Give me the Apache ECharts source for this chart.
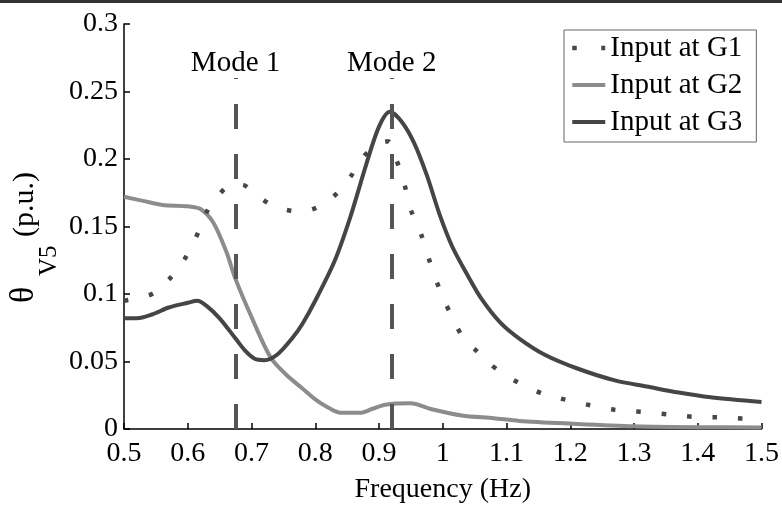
<!DOCTYPE html>
<html>
<head>
<meta charset="utf-8">
<script src="https://cdn.jsdelivr.net/npm/echarts@6/dist/echarts.min.js"></script>
<style>
html,body{margin:0;padding:0;background:#fff;}
#chart{width:782px;height:509px;}
</style>
</head>
<body>
<div id="chart"></div>
<script>
// ---- data ----
var seriesNames = ['Input at G1', 'Input at G2', 'Input at G3'];

var g1Freq = [0.50, 0.544, 0.571, 0.594, 0.613, 0.630, 0.643, 0.669, 0.685, 0.705, 0.735, 0.777, 0.802, 0.834, 0.857, 0.878, 0.906, 0.915, 0.928, 0.940, 0.951, 0.967, 0.980, 0.995, 1.012, 1.031, 1.055, 1.071, 1.091, 1.122, 1.158, 1.204, 1.232, 1.273, 1.32, 1.367, 1.395, 1.444, 1.50];
var g1Vals = [0.095, 0.100, 0.111, 0.125, 0.142, 0.161, 0.170, 0.181, 0.181, 0.1745, 0.165, 0.161, 0.164, 0.1745, 0.188, 0.203, 0.2125, 0.213, 0.1985, 0.181, 0.161, 0.143, 0.1235, 0.1035, 0.0855, 0.0686, 0.057, 0.0496, 0.042, 0.0335, 0.026, 0.0205, 0.0175, 0.014, 0.0124, 0.0102, 0.0090, 0.0085, 0.0065];

var g2Freq = [0.50, 0.53, 0.56, 0.60, 0.62, 0.64, 0.66, 0.675, 0.70, 0.73, 0.755, 0.78, 0.80, 0.82, 0.84, 0.87, 0.89, 0.91, 0.95, 0.98, 1.03, 1.08, 1.12, 1.20, 1.30, 1.40, 1.50];
var g2Vals = [0.172, 0.169, 0.166, 0.165, 0.163, 0.153, 0.132, 0.111, 0.083, 0.053, 0.040, 0.030, 0.022, 0.016, 0.012, 0.012, 0.015, 0.018, 0.019, 0.015, 0.010, 0.008, 0.006, 0.004, 0.002, 0.0013, 0.0012];

var g3Freq = [0.50, 0.52, 0.545, 0.57, 0.60, 0.615, 0.63, 0.65, 0.675, 0.69, 0.705, 0.72, 0.74, 0.765, 0.78, 0.80, 0.83, 0.855, 0.88, 0.90, 0.917, 0.935, 0.955, 0.975, 0.995, 1.015, 1.04, 1.06, 1.09, 1.12, 1.16, 1.21, 1.27, 1.32, 1.37, 1.42, 1.50];
var g3Vals = [0.082, 0.082, 0.085, 0.090, 0.0935, 0.095, 0.091, 0.082, 0.067, 0.058, 0.052, 0.051, 0.055, 0.068, 0.078, 0.095, 0.124, 0.157, 0.196, 0.224, 0.235, 0.228, 0.212, 0.188, 0.159, 0.135, 0.113, 0.097, 0.079, 0.067, 0.055, 0.045, 0.036, 0.0315, 0.027, 0.0235, 0.020];

var modeFreqs = [0.675, 0.92];
var modeLabels = ['Mode 1', 'Mode 2'];
var modeTop = 0.26;

var xMin = 0.5, xMax = 1.5, xStep = 0.1;
var yMin = 0, yMax = 0.3, yStep = 0.05;

// ---- helpers ----
function zip(xs, ys) { return xs.map(function (x, i) { return [x, ys[i]]; }); }

var FONT = 'Liberation Serif';
var chart = echarts.init(document.getElementById('chart'), null, { renderer: 'canvas' });

var modeLines = modeFreqs.map(function (f, i) {
  return [{ coord: [f, 0], name: modeLabels[i] }, { coord: [f, modeTop] }];
});

var option = {
  animation: false,
  backgroundColor: '#fff',
  grid: { left: 124, right: 20, top: 24, bottom: 74, containLabel: false },
  xAxis: {
    type: 'value', min: xMin, max: xMax, interval: xStep,
    name: 'Frequency (Hz)', nameLocation: 'middle', nameGap: 47,
    nameTextStyle: { fontFamily: FONT, fontSize: 28, color: '#000' },
    axisLine: { show: true, onZero: false, lineStyle: { color: '#000', width: 1.5 } },
    axisTick: { show: true, inside: true, length: 6, lineStyle: { color: '#000', width: 1.5 } },
    axisLabel: { fontFamily: FONT, fontSize: 28, color: '#000', margin: 11 },
    splitLine: { show: false }
  },
  yAxis: {
    type: 'value', min: yMin, max: yMax, interval: yStep,
    axisLine: { show: true, onZero: false, lineStyle: { color: '#000', width: 1.5 } },
    axisTick: { show: true, inside: true, length: 6, lineStyle: { color: '#000', width: 1.5 } },
    axisLabel: { fontFamily: FONT, fontSize: 28, color: '#000', margin: 6 },
    splitLine: { show: false }
  },
  legend: {
    orient: 'vertical', left: 564, top: 30,
    data: [
      { name: seriesNames[0], lineStyle: { width: 4.5, type: [4.5, 24.5], cap: 'butt' } },
      { name: seriesNames[1], lineStyle: { width: 4 } },
      { name: seriesNames[2], lineStyle: { width: 4 } }
    ],
    itemWidth: 33, itemHeight: 14, itemGap: 7,
    padding: [3, 14, 5, 6],
    itemStyle: { opacity: 0 },
    backgroundColor: '#fff', borderColor: '#666', borderWidth: 1, borderRadius: 0,
    textStyle: { fontFamily: FONT, fontSize: 29, lineHeight: 30, color: '#000' }
  },
  graphic: [
    { type: 'rect', left: 0, top: 0, shape: { width: 782, height: 3 }, style: { fill: '#333' }, silent: true },
    {
      type: 'group', x: 13, y: 303, rotation: Math.PI / 2,
      children: [
        { type: 'text', x: 0, y: 11, style: { text: 'θ', fontFamily: FONT, fontSize: 34, fill: '#000', textAlign: 'left', textVerticalAlign: 'middle' } },
        { type: 'text', x: 27, y: 36, style: { text: 'V5', fontFamily: FONT, fontSize: 25, fill: '#000', textAlign: 'left', textVerticalAlign: 'middle' } },
        { type: 'text', x: 66, y: 12, style: { text: '(p.u.)', fontFamily: FONT, fontSize: 30, fill: '#000', textAlign: 'left', textVerticalAlign: 'middle' } }
      ]
    }
  ],
  series: [
    {
      name: seriesNames[0], type: 'line', data: zip(g1Freq, g1Vals),
      smooth: 0.3, showSymbol: false, symbol: 'none',
      lineStyle: { color: '#474747', width: 4.5, type: [4.5, 21], cap: 'butt' },
      itemStyle: { color: '#474747' }, z: 3
    },
    {
      name: seriesNames[1], type: 'line', data: zip(g2Freq, g2Vals),
      smooth: 0.3, showSymbol: false, symbol: 'none',
      lineStyle: { color: '#8c8c8c', width: 4 },
      itemStyle: { color: '#8c8c8c' }, z: 2
    },
    {
      name: seriesNames[2], type: 'line', data: zip(g3Freq, g3Vals),
      smooth: 0.3, showSymbol: false, symbol: 'none',
      lineStyle: { color: '#454545', width: 4 },
      itemStyle: { color: '#454545' }, z: 4
    },
    {
      name: 'modes', type: 'line', data: [], silent: true,
      markLine: {
        silent: true, symbol: ['none', 'none'], animation: false,
        lineStyle: { color: '#555', width: 4, type: [25, 25] },
        label: {
          show: true, position: 'end', distance: 0,
          formatter: function (p) { return p.name; },
          fontFamily: FONT, fontSize: 29, color: '#000'
        },
        emphasis: { disabled: true },
        data: modeLines
      }
    }
  ]
};
chart.setOption(option);
</script>
</body>
</html>
